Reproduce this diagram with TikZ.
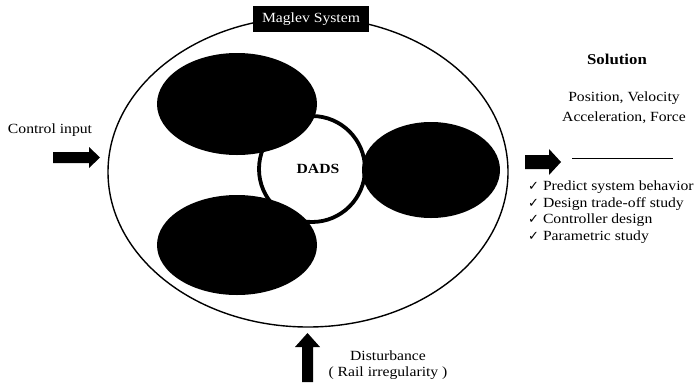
\documentclass[tikz,border=0pt]{standalone}
\usepackage{fontspec}
\setmainfont[FakeStretch=1.12]{Liberation Serif}
\newfontfamily\djv{DejaVu Sans}
\newcommand{\chk}{{\djv\fontsize{13}{12}\selectfont ✓}}
\begin{document}
\begin{tikzpicture}[x=1pt,y=-1pt,
  txt/.style={font=\fontsize{14}{16.5}\selectfont, inner sep=0pt},
  blob/.style={fill=black, draw=none},
  fatarrow/.style={fill=black}]
\useasboundingbox (0,0) rectangle (698,386);
% system ellipse
\draw[line width=1.4pt] (308,172) ellipse [x radius=200, y radius=155];
\node[fill=black, text=white, minimum width=116pt, minimum height=26pt, inner sep=0pt,
  font=\fontsize{14}{16}\selectfont] (sys) at (311,19) {Maglev System};
% DADS circle
\draw[line width=3.8pt, fill=white] (312,169) circle [radius=53];
\node[txt, font=\fontsize{14}{16}\selectfont\bfseries] (dads) at (318,169) {DADS};
% black ellipses
\fill[blob] (237,104) ellipse [x radius=80, y radius=51];
\fill[blob] (237,245) ellipse [x radius=80, y radius=50];
\fill[blob] (431,170) ellipse [x radius=69, y radius=48];
% control input
\node[txt] (ci) at (50,130) {Control input};
\fill[fatarrow] (53,152) -- (89,152) -- (89,147) -- (100,157.5) -- (89,168) -- (89,163) -- (53,163) -- cycle;
% output arrow
\fill[fatarrow] (525,155) -- (549,155) -- (549,149) -- (561,162) -- (549,175) -- (549,169) -- (525,169) -- cycle;
% solution
\node[txt, font=\fontsize{15}{17}\selectfont\bfseries] (sol) at (617,59) {Solution};
\node[txt, align=center, font=\fontsize{14}{20}\selectfont] (pv) at (624,108) {Position, Velocity\\Acceleration, Force};
\draw[line width=0.8pt] (572,158) -- (673,158);
\node[txt, anchor=west, align=left] (list) at (528,212) {%
  \chk\ Predict system behavior\\
  \chk\ Design trade-off study\\
  \chk\ Controller design\\
  \chk\ Parametric study};
% disturbance
\fill[fatarrow] (302,382) -- (302,347) -- (295,347) -- (307.5,333) -- (320,347) -- (313,347) -- (313,382) -- cycle;
\node[txt, align=center] (dist) at (388,365) {Disturbance\\( Rail irregularity )};
\end{tikzpicture}
\end{document}
